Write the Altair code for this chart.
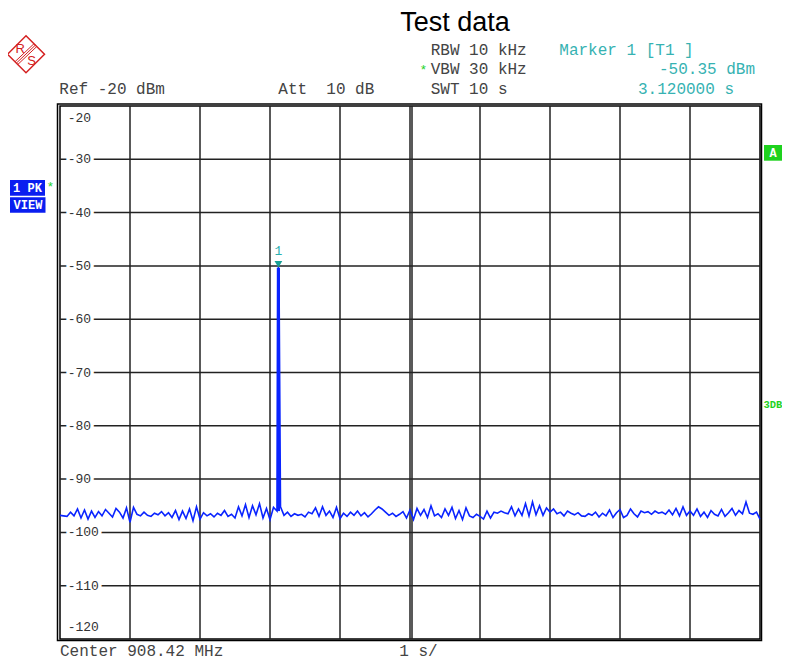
import altair as alt
import pandas as pd

# ---------------- data ----------------
sweep_step_s = 0.05
noise_dbm = [
    # 0.00 - 1.00 s
    -96.8, -96.9, -97.0, -96.2, -96.9, -95.6, -97.3, -95.8, -97.5, -96.0, -97.2,
    -96.1, -96.9, -95.7, -96.4, -97.1, -95.5, -96.2, -97.3, -95.4, -98.1,
    # 1.05 - 2.00 s
    -95.3, -96.6, -96.9, -96.2, -96.8, -97.0, -96.4, -96.7, -96.1, -96.9,
    -96.3, -97.2, -95.9, -97.6, -96.0, -97.4, -95.6, -97.8, -95.2, -97.5,
    # 2.05 - 3.05 s
    -96.3, -96.9, -96.5, -97.1, -96.4, -96.8, -95.9, -97.0, -96.6, -97.3, -95.2,
    -96.9, -94.8, -97.2, -95.0, -96.7, -94.6, -97.3, -95.5, -97.6, -95.3,
    # 3.10 s
    -96.0,
    # 3.15 - 4.00 s
    -95.2, -96.8, -96.2, -97.0, -96.5, -96.8, -96.6, -97.1, -96.2,
    -96.5, -95.4, -97.0, -95.2, -96.8, -96.0, -97.2, -95.3, -97.4,
    # 4.05 - 5.00 s
    -96.4, -97.0, -96.2, -96.8, -96.0, -96.9, -96.3, -97.1, -96.5, -95.8,
    -95.2, -95.6, -96.2, -96.8, -96.4, -97.0, -96.6, -96.1, -97.3, -95.8,
    # 5.05 - 6.00 s
    -97.6, -95.5, -96.8, -95.7, -97.2, -95.0, -96.9, -96.5, -97.2, -95.6,
    -96.8, -95.3, -97.4, -95.9, -97.6, -95.4, -96.9, -97.2, -96.6, -97.0,
    # 6.05 - 7.00 s
    -97.5, -96.0, -97.3, -96.2, -96.4, -96.0, -96.3, -96.5, -95.2, -96.9,
    -95.6, -96.8, -94.6, -96.9, -94.3, -96.7, -95.0, -96.8, -95.4, -96.2,
    # 7.05 - 8.00 s
    -95.6, -96.5, -96.2, -96.9, -96.0, -96.4, -96.7, -96.3, -96.9, -97.0,
    -96.5, -96.8, -96.2, -97.1, -96.4, -96.9, -95.8, -97.2, -96.3, -95.7,
    # 8.05 - 9.00 s
    -97.2, -96.8, -95.6, -96.5, -97.1, -96.0, -96.3, -96.1, -96.6, -96.0,
    -96.4, -96.2, -96.6, -95.8, -96.7, -95.5, -96.9, -95.2, -96.8, -96.0,
    # 9.05 - 10.00 s
    -96.8, -95.6, -97.0, -96.2, -97.2, -95.9, -96.6, -96.9, -95.7, -97.0,
    -96.3, -95.5, -96.8, -95.9, -96.5, -94.3, -96.4, -96.6, -96.2, -97.5,
]
noise_time_s = [round(i * sweep_step_s, 2) for i in range(len(noise_dbm))]

peak_time_s = [3.112, 3.12, 3.128]
peak_dbm = [-50.6, -50.35, -50.6]
peak_floor_dbm = [-96.0]

marker_time_s = [3.12]
marker_dbm = [-50.35]
marker_label = ["1"]

ytick_values = [-30, -40, -50, -60, -70, -80, -90, -100, -110]
xgrid_values = [1, 2, 3, 4, 5, 6, 7, 8, 9]
ygrid_values = [-110, -100, -90, -80, -70, -60, -50, -40, -30]

# ---------------- build chart ----------------
W, H = 700, 533
MONO = "Liberation Mono"
NB = "\u00a0"
GRID = "#222222"
TRACE = "#0a24ff"

trace = pd.DataFrame({"t": noise_time_s + peak_time_s,
                      "level": noise_dbm + peak_dbm}).sort_values("t")
marker = pd.DataFrame({"t": marker_time_s, "level": marker_dbm, "lab": marker_label,
                       "floor": peak_floor_dbm})
ylab = pd.DataFrame({"level": ytick_values, "lab": [str(v) for v in ytick_values]})
ends = pd.DataFrame({"level": [-20, -120], "lab": ["-20", "-120"]})
one = pd.DataFrame({"k": [0]})

xs = alt.Scale(domain=[0, 10], nice=False, zero=False)
ys = alt.Scale(domain=[-120, -20], nice=False, zero=False)

vgrid = alt.Chart(pd.DataFrame({"t": xgrid_values})).mark_rule(
    color=GRID, strokeWidth=1.5).encode(x=alt.X("t:Q", scale=xs, axis=None))
hgrid = alt.Chart(pd.DataFrame({"level": ygrid_values})).mark_rule(
    color=GRID, strokeWidth=1.5).encode(y=alt.Y("level:Q", scale=ys, axis=None))
center_line = alt.Chart(pd.DataFrame({"t": [5]})).mark_rule(
    color=GRID, strokeWidth=1.5, xOffset=2).encode(x=alt.X("t:Q", scale=xs, axis=None))

trace_layer = alt.Chart(trace).mark_line(color=TRACE, strokeWidth=1.6).encode(
    x=alt.X("t:Q", scale=xs, axis=None),
    y=alt.Y("level:Q", scale=ys, axis=None),
)
spike = alt.Chart(marker).mark_rule(color=TRACE, strokeWidth=3.2).encode(
    x=alt.X("t:Q", scale=xs, axis=None),
    y=alt.Y("level:Q", scale=ys, axis=None), y2="floor:Q")

ylab_halo = alt.Chart(ylab).mark_text(align="left", baseline="middle", font=MONO, fontSize=13,
                                      color="white", stroke="white", strokeWidth=7).encode(
    x=alt.value(7.7), y=alt.Y("level:Q", scale=ys, axis=None), text="lab:N")
ylab_text = alt.Chart(ylab).mark_text(align="left", baseline="middle", font=MONO, fontSize=13,
                                      color="#333").encode(
    x=alt.value(7.7), y=alt.Y("level:Q", scale=ys, axis=None), text="lab:N")
top_lab = alt.Chart(ends.iloc[[0]]).mark_text(align="left", baseline="middle", font=MONO,
                                              fontSize=13, color="#333", dy=11.5).encode(
    x=alt.value(7.7), y=alt.Y("level:Q", scale=ys, axis=None), text="lab:N")
bot_lab = alt.Chart(ends.iloc[[1]]).mark_text(align="left", baseline="middle", font=MONO,
                                              fontSize=13, color="#333", dy=-12).encode(
    x=alt.value(7.7), y=alt.Y("level:Q", scale=ys, axis=None), text="lab:N")

marker_sym = alt.Chart(marker).mark_point(shape="triangle-down", filled=True, color="#16a096",
                                          size=60, opacity=1, yOffset=-3.5).encode(
    x=alt.X("t:Q", scale=xs, axis=None), y=alt.Y("level:Q", scale=ys, axis=None))
marker_txt = alt.Chart(marker).mark_text(font=MONO, fontSize=13, color="#2ab0b0", dy=-17).encode(
    x=alt.X("t:Q", scale=xs, axis=None), y=alt.Y("level:Q", scale=ys, axis=None), text="lab:N")

frame = alt.Chart(one).mark_rect(fill=None, stroke="black", strokeWidth=1.5).encode(
    x=alt.value(-2.5), x2=alt.value(W + 1.5), y=alt.value(-2), y2=alt.value(H + 1.5))


def txt(s, x, y, size=16, color="#444", align="left", font=MONO, weight="normal",
        baseline="alphabetic"):
    return alt.Chart(one).mark_text(text=s.replace(" ", NB), align=align, baseline=baseline,
                                    font=font, fontSize=size, color=color,
                                    fontWeight=weight).encode(x=alt.value(x), y=alt.value(y))


def box(x1, x2, y1, y2, color):
    return alt.Chart(one).mark_rect(color=color).encode(
        x=alt.value(x1), x2=alt.value(x2), y=alt.value(y1), y2=alt.value(y2))


def seg(x1, y1, x2, y2, color="#d42020", w=1.0):
    return alt.Chart(one).mark_rule(color=color, strokeWidth=w).encode(
        x=alt.value(x1), y=alt.value(y1), x2=alt.value(x2), y2=alt.value(y2))


teal = "#36b2b2"
green = "#1fd21f"
blue = "#0a1ef0"
red = "#d42020"

annotations = [
    alt.Chart(one).mark_text(text="Test data", font="Liberation Sans", fontSize=27,
                             color="black", align="center", baseline="alphabetic").encode(
        x=alt.value(395), y=alt.value(-75.5)),
    txt("RBW 10 kHz", 370.7, -51),
    txt("VBW 30 kHz", 370.7, -32),
    txt("SWT 10 s", 370.7, -12),
    txt("*", 363.5, -32, size=13, color=green, align="center"),
    txt("Marker 1 [T1 ]", 499.3, -51, color=teal),
    txt("-50.35 dBm", 695, -32, color=teal, align="right"),
    txt("3.120000 s", 674, -12, color=teal, align="right"),
    txt("Ref -20 dBm", -0.7, -12),
    txt("Att  10 dB", 218.3, -12),
    txt("Center 908.42 MHz", 0, 549.5),
    txt("1 s/", 339.3, 549.5),
    box(-50, -15, 74, 89.7, blue),
    box(-50, -14.5, 91.3, 106.7, blue),
    txt("1 PK", -32.5, 82, size=12, color="white", align="center", weight="bold",
        baseline="middle"),
    txt("VIEW", -32, 99, size=12, color="white", align="center", weight="bold",
        baseline="middle"),
    txt("*", -9.5, 85, size=13, color=green, align="center"),
    box(704, 730, 39, 54.7, "#1ed21e"),
    txt("A", 713, 47, size=12, color="white", align="center", weight="bold",
        baseline="middle"),
    txt("3DB", 703.5, 299, size=10.5, color=green, weight="bold", baseline="middle"),
    # R&S logo
    alt.Chart(one).mark_point(shape="diamond", filled=False, color=red, size=1369,
                              strokeWidth=1.5, opacity=1).encode(
        x=alt.value(-34), y=alt.value(-51.7)),
    seg(-44.9, -44.4, -25.9, -62.4),
    seg(-43.5, -43.0, -24.5, -61.0),
    seg(-42.1, -41.6, -23.1, -59.6),
    txt("R", -39.8, -57, size=13, color=red, align="center", font="Liberation Sans",
        baseline="middle"),
    txt("S", -28.5, -45.5, size=13, color=red, align="center", font="Liberation Sans",
        baseline="middle"),
]

chart = alt.layer(
    vgrid, hgrid, center_line, trace_layer, spike, frame, ylab_halo, ylab_text, top_lab,
    bot_lab, marker_sym, marker_txt, *annotations
).properties(
    width=W, height=H,
    padding={"left": 52, "top": 98, "right": 22, "bottom": 20},
    autosize=alt.AutoSizeParams(type="none"),
    background="white",
).configure_view(stroke="black", strokeWidth=1.5)

chart.save("out.html", embed_options={"renderer": "svg", "actions": False})
